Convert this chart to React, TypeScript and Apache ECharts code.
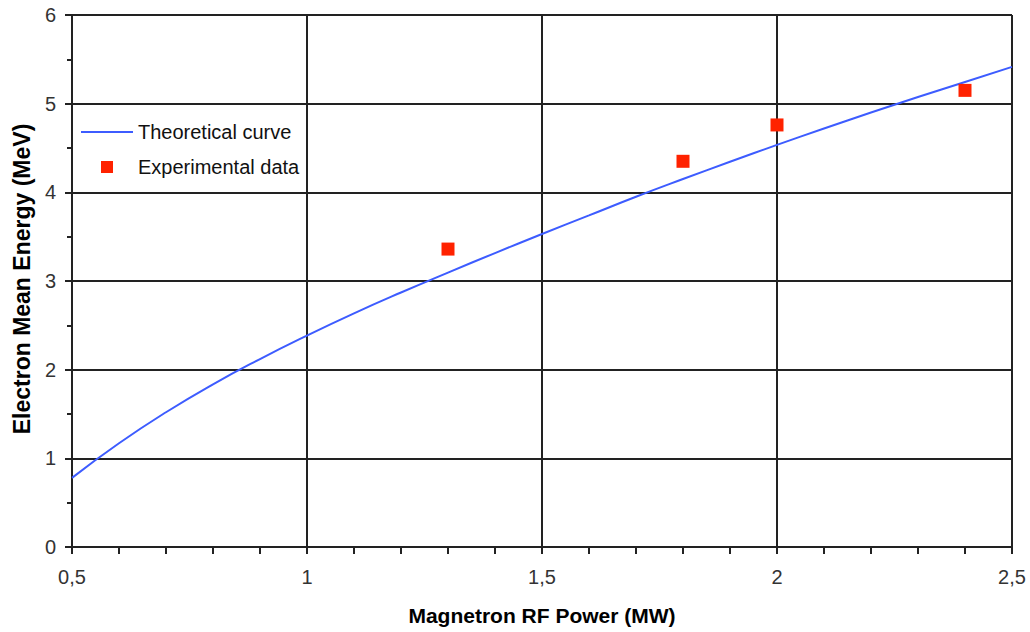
import React, { useEffect, useRef } from "react";
import * as echarts from "echarts";

const curveX = [0.5, 0.6, 0.7, 0.8, 0.9, 1.0, 1.1, 1.2, 1.3, 1.4, 1.5, 1.6, 1.7, 1.8, 1.9, 2.0, 2.1, 2.2, 2.3, 2.4, 2.5];
const curveY = [0.78, 1.17, 1.52, 1.835, 2.12, 2.385, 2.635, 2.87, 3.095, 3.315, 3.53, 3.74, 3.95, 4.15, 4.345, 4.535, 4.72, 4.9, 5.075, 5.245, 5.415];
const expX = [1.3, 1.8, 2.0, 2.4];
const expY = [3.36, 4.35, 4.76, 5.15];
const seriesNames = ["Theoretical curve", "Experimental data"];
const xTitle = "Magnetron RF Power (MW)";
const yTitle = "Electron Mean Energy (MeV)";

const fmt = (v: number) => String(v).replace(".", ",");

export default function App() {
  const ref = useRef<HTMLDivElement>(null);
  useEffect(() => {
    if (!ref.current) return;
    const chart = echarts.init(ref.current, null, { renderer: "svg" });
    const font = "'Liberation Sans', Arial, sans-serif";
    chart.setOption({
      animation: false,
      backgroundColor: "#ffffff",
      textStyle: { fontFamily: font },
      grid: { left: 72, right: 18, top: 15, bottom: 85, containLabel: false, outerBoundsMode: "none" },
      legend: {
        orient: "vertical",
        left: 81,
        top: 122,
        padding: 0,
        itemWidth: 52,
        itemHeight: 12,
        itemGap: 15,
        textStyle: { fontSize: 20, color: "#111", fontFamily: font },
        data: [
          { name: seriesNames[0], icon: "path://M0,0h52v2h-52z" },
          { name: seriesNames[1], icon: "path://M0,0h10v10h-10z" },
        ],
      },
      graphic: [
        {
          type: "text",
          x: 22,
          y: 279,
          rotation: Math.PI / 2,
          style: {
            text: yTitle,
            fontSize: 23,
            fontWeight: "bold",
            fontFamily: font,
            fill: "#000",
            align: "center",
            verticalAlign: "middle",
          },
        },
      ],
      xAxis: {
        type: "value",
        min: 0.5,
        max: 2.5,
        interval: 0.5,
        name: xTitle,
        nameLocation: "middle",
        nameGap: 58,
        nameTextStyle: { fontSize: 21, fontWeight: "bold", color: "#000", fontFamily: font },
        axisLine: { lineStyle: { color: "#222", width: 2 } },
        axisTick: { show: true, length: 7, lineStyle: { color: "#222", width: 2 } },
        minorTick: { show: true, splitNumber: 5, length: 7, lineStyle: { color: "#222", width: 2 } },
        axisLabel: { fontSize: 20, color: "#333", margin: 20, formatter: (v: number) => fmt(v) },
        splitLine: { show: true, lineStyle: { color: "#222", width: 2 } },
      },
      yAxis: {
        type: "value",
        min: 0,
        max: 6,
        interval: 1,
        axisLine: { show: true, lineStyle: { color: "#222", width: 2 } },
        axisTick: { show: true, length: 7, lineStyle: { color: "#222", width: 2 } },
        minorTick: { show: true, splitNumber: 2, length: 5, lineStyle: { color: "#222", width: 2 } },
        axisLabel: { fontSize: 20, color: "#333", margin: 16 },
        splitLine: { show: true, lineStyle: { color: "#222", width: 2 } },
      },
      series: [
        {
          name: seriesNames[0],
          type: "line",
          smooth: true,
          symbol: "none",
          data: curveX.map((x, i) => [x, curveY[i]]),
          lineStyle: { color: "#3d5cff", width: 2 },
          itemStyle: { color: "#3d5cff" },
          z: 3,
        },
        {
          name: seriesNames[1],
          type: "scatter",
          symbol: "rect",
          symbolSize: 13,
          data: expX.map((x, i) => [x, expY[i]]),
          itemStyle: { color: "#ff2200", opacity: 1 },
          z: 4,
        },
      ],
    });
    return () => chart.dispose();
  }, []);
  return (
    <div
      ref={ref}
      style={{ position: "absolute", left: 0, top: 0, width: 1030, height: 632 }}
    />
  );
}
